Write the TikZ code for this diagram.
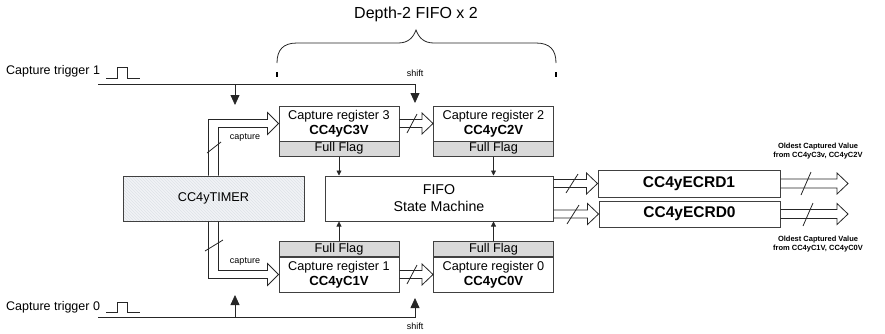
\documentclass[tikz,border=0pt]{standalone}
\usepackage{fontspec}
\setmainfont{Liberation Sans}
\usetikzlibrary{arrows.meta,patterns,calc}
\definecolor{boxgray}{HTML}{404040}
\definecolor{flaggray}{HTML}{D9D9D9}
\definecolor{timerfill}{HTML}{F1F3F6}
\definecolor{hatchc}{HTML}{DEE2E8}
\newcommand\hollowto[4]{%
  \draw[conn] let \p1=(#1), \p2=(#2) in
    (\x1,\y1+#3) -- (\x2-11pt,\y1+#3) -- (\x2-11pt,\y1+#4) -- (\x2,\y1)
    -- (\x2-11pt,\y1-#4) -- (\x2-11pt,\y1-#3) -- (\x1,\y1-#3);}
\begin{document}
\begin{tikzpicture}[x=1pt,y=-1pt,
  box/.style={draw=boxgray, line width=1pt, inner sep=0pt, align=center},
  reg/.style={box, fill=white, minimum width=120pt, minimum height=35pt, font=\fontsize{12.7}{15}\selectfont},
  flagbox/.style={box, fill=flaggray, minimum width=120pt, minimum height=15pt, font=\fontsize{12.7}{14}\selectfont},
  conn/.style={draw=black!85, line width=0.8pt},
  bigtip/.style={-{Triangle[width=9pt,length=10pt]}},
  smalltip/.style={-{Triangle[width=5pt,length=5pt]}},
  lbl/.style={inner sep=0pt, font=\fontsize{9}{10}\selectfont},
  outlbl/.style={inner sep=0pt, align=center, font=\bfseries\fontsize{7.5}{8.5}\selectfont},
  trig/.style={inner sep=0pt, anchor=west, font=\fontsize{12.5}{14}\selectfont}]
\useasboundingbox (0,0) rectangle (885,333);

% registers
\node[reg] (r3) at (339,123.5) {Capture register 3\\\textbf{\fontsize{13.2}{15}\selectfont CC4yC3V}};
\node[flagbox] (f3) at (339,148.5) {Full Flag};
\node[reg] (r2) at (493.5,123.5) {Capture register 2\\\textbf{\fontsize{13.2}{15}\selectfont CC4yC2V}};
\node[flagbox] (f2) at (493.5,148.5) {Full Flag};
\node[flagbox] (f1) at (339,249) {Full Flag};
\node[reg] (r1) at (339,274.5) {Capture register 1\\\textbf{\fontsize{13.2}{15}\selectfont CC4yC1V}};
\node[flagbox] (f0) at (493.5,249) {Full Flag};
\node[reg] (r0) at (493.5,274.5) {Capture register 0\\\textbf{\fontsize{13.2}{15}\selectfont CC4yC0V}};

% timer and FIFO
\node[box, minimum width=181pt, minimum height=45pt, preaction={fill=timerfill},
      pattern=north west lines, pattern color=hatchc,
      font=\fontsize{12.7}{15}\selectfont] (timer) at (213.5,198.5) {CC4yTIMER};
\node[box, minimum width=228pt, minimum height=45pt, font=\fontsize{14.2}{17}\selectfont]
      (fifo) at (439,198.5) {FIFO\\State Machine};

% ECRD
\node[box, minimum width=182pt, minimum height=27pt, font=\bfseries\fontsize{15.5}{18}\selectfont]
      (e1) at (689,183.5) {CC4yECRD1};
\node[box, minimum width=181pt, minimum height=26pt, font=\bfseries\fontsize{15.5}{18}\selectfont]
      (e0) at (689.5,214) {CC4yECRD0};

% capture buses from timer
\draw[conn] ([xshift=-5pt]timer.north) |- ([xshift=-11pt,yshift=4pt]r3.west)
  -- ([xshift=-11pt,yshift=11pt]r3.west) -- (r3.west)
  -- ([xshift=-11pt,yshift=-11pt]r3.west) -- ([xshift=-11pt,yshift=-4pt]r3.west)
  -| ([xshift=5pt]timer.north);
\draw[conn] ([xshift=-5pt]timer.south) |- ([xshift=-11pt,yshift=-4pt]r1.west)
  -- ([xshift=-11pt,yshift=-11pt]r1.west) -- (r1.west)
  -- ([xshift=-11pt,yshift=11pt]r1.west) -- ([xshift=-11pt,yshift=4pt]r1.west)
  -| ([xshift=5pt]timer.south);
\draw[conn] (207,153) -- (221,142);
\draw[conn] (205,251) -- (223,240);
\node[lbl] (cap1) at (245,138) {capture};
\node[lbl] (cap0) at (245,262) {capture};

% register to register
\hollowto{r3.east}{r2.west}{4pt}{10.5pt}
\hollowto{r1.east}{r0.west}{4pt}{10.5pt}
\draw[conn] (407,133) -- (417,114);
\draw[conn] (407,284) -- (417,265);

% flags to FIFO
\draw[conn,smalltip] (f3.south) -- (f3.south |- fifo.north);
\draw[conn,smalltip] (f2.south) -- (f2.south |- fifo.north);
\draw[conn,smalltip] (f1.north) -- (f1.north |- fifo.south);
\draw[conn,smalltip] (f0.north) -- (f0.north |- fifo.south);

% FIFO to ECRD
\hollowto{fifo.east |- e1.west}{e1.west}{4pt}{10.5pt}
\hollowto{fifo.east |- e0.west}{e0.west}{4pt}{10.5pt}
\draw[conn] (566,193) -- (578,174);
\draw[conn] (567,224) -- (579,205);

% outputs
\coordinate (o1) at (848,183.5);
\coordinate (o0) at (848,214);
\hollowto{e1.east}{o1}{4.5pt}{10.5pt}
\hollowto{e0.east}{o0}{4.5pt}{10.5pt}
\draw[conn] (801,195) -- (811,172);
\draw[conn] (803,226) -- (813,203);
\node[outlbl] (ol1) at (818,151) {Oldest Captured Value\\from CC4yC3v, CC4yC2V};
\node[outlbl] (ol0) at (818,244) {Oldest Captured Value\\from CC4yC1V, CC4yC0V};

% capture triggers
\node[trig] (tr1) at (6,71) {Capture trigger 1};
\node[trig] (tr0) at (6,307) {Capture trigger 0};
\draw[conn] (106,78) -- (117,78) -- (117,67) -- (127,67) -- (127,78) -- (140,78);
\draw[conn] (106,312) -- (117,312) -- (117,302) -- (127,302) -- (127,312) -- (140,312);
\coordinate (t1a) at (98,84);
\coordinate (sh1) at (415,103);
\draw[conn,bigtip] (t1a) -| (sh1);
\coordinate (d1a) at (235,84);
\coordinate (d1b) at (235,105);
\draw[conn,bigtip] (d1a) -- (d1b);
\coordinate (t0a) at (98,317);
\coordinate (sh0) at (415,298);
\draw[conn,bigtip] (t0a) -| (sh0);
\coordinate (u0a) at (235,317);
\coordinate (u0b) at (235,295);
\draw[conn,bigtip] (u0a) -- (u0b);
\node[lbl] (shl1) at (415,73) {shift};
\node[lbl] (shl0) at (415,326) {shift};

% brace
\draw[conn] (277,63) .. controls (277,50) and (283,43) .. (297,43) -- (398,43)
  .. controls (408,43) and (413,38) .. (416,30)
  .. controls (419,38) and (424,43) .. (434,43) -- (536,43)
  .. controls (550,43) and (556,50) .. (556,63);
\draw[line width=2pt] (277,72) -- (277,77);
\draw[line width=2pt] (556,72) -- (556,77);
\node[inner sep=0pt, font=\fontsize{16}{18}\selectfont] (depth) at (416,14) {Depth-2 FIFO x 2};
\end{tikzpicture}
\end{document}
